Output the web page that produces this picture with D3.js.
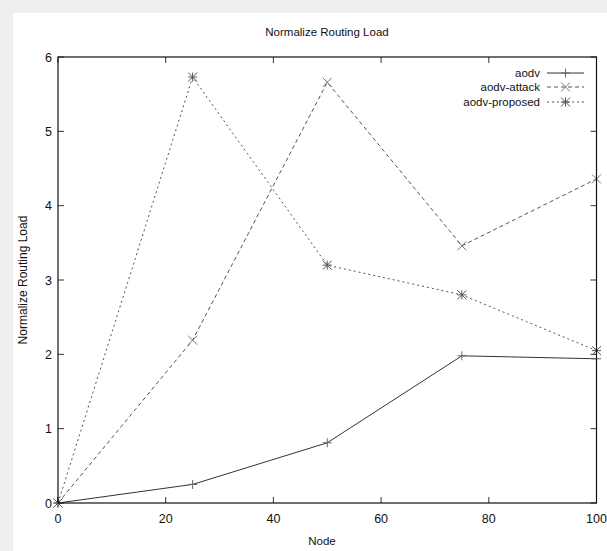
<!DOCTYPE html>
<html lang="en">
<head>
    <meta charset="UTF-8">
    <title>Normalize Routing Load</title>
    <style>
        body { margin: 0; padding: 0; background: #fff; }
        svg { display: block; }
        text { font-family: "Liberation Sans", Arial, sans-serif; fill: #111; }
    </style>
</head>
<body>
    <svg width="607" height="551"></svg>
    <script src="https://d3js.org/d3.v7.min.js"></script>
    <script>
        // data
        const nodes = [0, 25, 50, 75, 100];
        const aodv = [0, 0.25, 0.81, 1.98, 1.94];
        const aodvAttack = [0, 2.19, 5.66, 3.46, 4.36];
        const aodvProposed = [0, 5.73, 3.2, 2.8, 2.05];
        const seriesNames = ["aodv", "aodv-attack", "aodv-proposed"];
        const xTicks = [0, 20, 40, 60, 80, 100];
        const yTicks = [0, 1, 2, 3, 4, 5, 6];

        const svg = d3.select("svg");
        const W = 607, H = 551;
        const mLeft = 58, mRight = 596.5, mTop = 57, mBottom = 503;

        // light grey strip left & top (screenshot crop)
        svg.append("rect").attr("width", W).attr("height", H).attr("fill", "#efefef");
        svg.append("rect").attr("x", 13).attr("y", 13).attr("width", W).attr("height", H).attr("fill", "#fff");

        const x = d3.scaleLinear().domain([0, 100]).range([mLeft, mRight]);
        const y = d3.scaleLinear().domain([0, 6]).range([mBottom, mTop]);
        const tick = 6;

        // ticks, gnuplot style: inside, mirrored
        const g = svg.append("g").attr("stroke", "#333").attr("stroke-width", 1);
        xTicks.forEach(v => {
            g.append("line").attr("x1", x(v)).attr("x2", x(v)).attr("y1", mBottom).attr("y2", mBottom - tick);
            g.append("line").attr("x1", x(v)).attr("x2", x(v)).attr("y1", mTop).attr("y2", mTop + tick);
        });
        yTicks.forEach(v => {
            g.append("line").attr("y1", y(v)).attr("y2", y(v)).attr("x1", mLeft).attr("x2", mLeft + tick);
            g.append("line").attr("y1", y(v)).attr("y2", y(v)).attr("x1", mRight).attr("x2", mRight - tick);
        });

        // tick labels
        svg.selectAll(".xl").data(xTicks).enter().append("text")
            .attr("x", d => x(d)).attr("y", mBottom + 20)
            .attr("text-anchor", "middle").attr("font-size", 12.5).text(d => d);
        svg.selectAll(".yl").data(yTicks).enter().append("text")
            .attr("x", mLeft - 6).attr("y", d => y(d) + 4.5)
            .attr("text-anchor", "end").attr("font-size", 12.5).text(d => d);

        // titles
        svg.append("text").attr("x", 327).attr("y", 36).attr("text-anchor", "middle")
            .attr("font-size", 11.5).text("Normalize Routing Load");
        svg.append("text").attr("x", 322).attr("y", 545).attr("text-anchor", "middle")
            .attr("font-size", 11.5).text("Node");
        svg.append("text").attr("transform", "translate(27,280) rotate(-90)").attr("text-anchor", "middle")
            .attr("font-size", 12).text("Normalize Routing Load");

        const line = d3.line().x((d, i) => x(nodes[i])).y(d => y(d));

        const styles = [
            { data: aodv, dash: null, color: "#333", mark: "#666", marker: "plus" },
            { data: aodvAttack, dash: "4,3", color: "#555", mark: "#777", marker: "cross" },
            { data: aodvProposed, dash: "2,3", color: "#555", mark: "#555", marker: "star" }
        ];

        function marker(sel, type, cx, cy, color) {
            const s = 4.5;
            const m = sel.append("g").attr("stroke", color).attr("stroke-width", 1).attr("fill", "none");
            if (type === "plus" || type === "star") {
                m.append("line").attr("x1", cx - s).attr("x2", cx + s).attr("y1", cy).attr("y2", cy);
                m.append("line").attr("x1", cx).attr("x2", cx).attr("y1", cy - s).attr("y2", cy + s);
            }
            if (type === "cross" || type === "star") {
                m.append("line").attr("x1", cx - s).attr("x2", cx + s).attr("y1", cy - s).attr("y2", cy + s);
                m.append("line").attr("x1", cx - s).attr("x2", cx + s).attr("y1", cy + s).attr("y2", cy - s);
            }
        }

        styles.forEach(st => {
            svg.append("path").datum(st.data).attr("d", line)
                .attr("fill", "none").attr("stroke", st.color).attr("stroke-width", 1)
                .attr("stroke-dasharray", st.dash);
            st.data.forEach((d, i) => marker(svg, st.marker, x(nodes[i]), y(d), st.mark));
        });

        // legend
        const legY = [73, 87, 102];
        seriesNames.forEach((name, i) => {
            svg.append("text").attr("x", 540).attr("y", legY[i] + 4).attr("text-anchor", "end")
                .attr("font-size", 11.5).text(name);
            svg.append("line").attr("x1", 547).attr("x2", 584).attr("y1", legY[i]).attr("y2", legY[i])
                .attr("stroke", styles[i].color).attr("stroke-dasharray", styles[i].dash);
            marker(svg, styles[i].marker, 565.5, legY[i], styles[i].mark);
        });

        // frame
        svg.append("rect").attr("x", mLeft).attr("y", mTop).attr("width", mRight - mLeft).attr("height", mBottom - mTop)
            .attr("fill", "none").attr("stroke", "#111").attr("stroke-width", 1.2);
    </script>
</body>
</html>
